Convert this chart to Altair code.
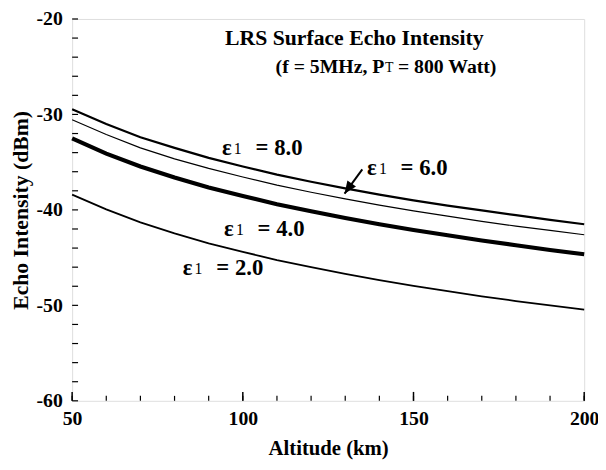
import altair as alt
import pandas as pd

# ---- data ----
altitude_km = [50, 60, 70, 80, 90, 100, 110, 120, 130, 140, 150, 160, 170, 180, 190, 200]
eps8 = [-29.45, -31.0, -32.4, -33.5, -34.55, -35.45, -36.3, -37.05, -37.75, -38.4, -39.0, -39.55, -40.05, -40.55, -41.05, -41.5]
eps6 = [-30.55, -32.1, -33.5, -34.65, -35.65, -36.55, -37.4, -38.15, -38.85, -39.5, -40.1, -40.65, -41.2, -41.7, -42.15, -42.6]
eps4 = [-32.5, -34.1, -35.45, -36.6, -37.65, -38.55, -39.4, -40.15, -40.85, -41.5, -42.1, -42.65, -43.2, -43.7, -44.2, -44.65]
eps2 = [-38.4, -39.95, -41.3, -42.45, -43.5, -44.4, -45.25, -46.0, -46.7, -47.35, -47.95, -48.5, -49.05, -49.55, -50.0, -50.45]

series_names = ["8.0", "6.0", "4.0", "2.0"]
series_widths = [2.2, 1.2, 4.2, 1.8]

label_x = [93.9, 136.4, 94.5, 82.4]
label_y = [-33.55, -35.6, -42.05, -46.05]
label_text = ["= 8.0", "= 6.0", "= 4.0", "= 2.0"]

title_line1 = "LRS Surface Echo Intensity"
title_line2_a = "(f = 5MHz, P"
title_line2_b = "T"
title_line2_c = "= 800 Watt)"
title_x = [94.8, 109.6]
title_y = [-21.96, -25.06]

arrow_start = (135.0, -35.75)
arrow_tip = (129.8, -38.3)

x_ticks_minor = list(range(50, 201, 10))
x_ticks_major = [50, 100, 150, 200]
y_ticks = list(range(-60, -19, 2))
y_labels = [-60, -50, -40, -30, -20]

W, H = 519, 387
FONT = "Liberation Serif"

rows = []
for name, w, vals in zip(series_names, series_widths, [eps8, eps6, eps4, eps2]):
    for a, v in zip(altitude_km, vals):
        rows.append({"alt": a, "dbm": v, "eps": name, "w": w})
df = pd.DataFrame(rows)

xs = alt.Scale(domain=[50, 200], nice=False)
ys = alt.Scale(domain=[-60, -20], nice=False)

lines = alt.Chart(df).mark_line(color="black").encode(
    x=alt.X("alt:Q", scale=xs,
            axis=alt.Axis(title="Altitude (km)", values=x_ticks_major, ticks=False,
                          grid=False, domain=False, labelPadding=8,
                          labelFont=FONT, labelFontSize=20, labelFontWeight="bold",
                          labelColor="black", titleFont=FONT, titleFontSize=21,
                          titleFontWeight="bold", titleColor="black", titleY=37,
                          labelFlush=False, labelExpr="'' + datum.value")),
    y=alt.Y("dbm:Q", scale=ys,
            axis=alt.Axis(title="Echo Intensity (dBm)", values=y_labels,
                          ticks=False, grid=False, domain=False, labelPadding=10,
                          labelFont=FONT, labelFontSize=20, labelFontWeight="bold",
                          labelColor="black", titleFont=FONT, titleFontSize=22,
                          titleFontWeight="bold", titleColor="black", titleX=-40,
                          labelFlush=False, labelExpr="'' + datum.value")),
    detail="eps:N",
    strokeWidth=alt.StrokeWidth("w:Q", scale=None),
)

# inward ticks
xt_minor = alt.Chart(pd.DataFrame({"v": x_ticks_minor})).mark_rule(color="black", strokeWidth=1.2).encode(
    x=alt.X("v:Q", scale=xs), y=alt.value(H), y2=alt.value(H - 5))
xt_major = alt.Chart(pd.DataFrame({"v": x_ticks_major})).mark_rule(color="black", strokeWidth=1.5).encode(
    x=alt.X("v:Q", scale=xs), y=alt.value(H), y2=alt.value(H - 9))
yt = alt.Chart(pd.DataFrame({"v": y_ticks})).mark_rule(color="black", strokeWidth=1.2).encode(
    y=alt.Y("v:Q", scale=ys), x=alt.value(0), x2=alt.value(6))

lab_df = pd.DataFrame({"x": label_x, "y": label_y, "t": label_text})
eps_sym = alt.Chart(lab_df).mark_text(text="ε", align="left", baseline="middle", font=FONT,
                                      fontSize=23, fontWeight="bold", color="black").encode(
    x=alt.X("x:Q", scale=xs), y=alt.Y("y:Q", scale=ys))
eps_sub = alt.Chart(lab_df).mark_text(text="1", align="left", baseline="middle", font=FONT,
                                      fontSize=16, color="black", dx=12, dy=1).encode(
    x=alt.X("x:Q", scale=xs), y=alt.Y("y:Q", scale=ys))
eps_val = alt.Chart(lab_df).mark_text(align="left", baseline="middle", font=FONT,
                                      fontSize=23, fontWeight="bold", color="black", dx=34).encode(
    x=alt.X("x:Q", scale=xs), y=alt.Y("y:Q", scale=ys), text="t:N")

t1 = alt.Chart(pd.DataFrame({"x": [title_x[0]], "y": [title_y[0]], "t": [title_line1]})).mark_text(
    align="left", baseline="middle", font=FONT, fontSize=22, fontWeight="bold", color="black").encode(
    x=alt.X("x:Q", scale=xs), y=alt.Y("y:Q", scale=ys), text="t:N")
t2df = pd.DataFrame({"x": [title_x[1]], "y": [title_y[1]]})
t2a = alt.Chart(t2df).mark_text(text=title_line2_a, align="left", baseline="middle", font=FONT,
                                fontSize=20, fontWeight="bold", color="black").encode(
    x=alt.X("x:Q", scale=xs), y=alt.Y("y:Q", scale=ys))
t2b = alt.Chart(t2df).mark_text(text=title_line2_b, align="left", baseline="middle", font=FONT,
                                fontSize=14, color="black", dx=111, dy=1).encode(
    x=alt.X("x:Q", scale=xs), y=alt.Y("y:Q", scale=ys))
t2c = alt.Chart(t2df).mark_text(text=title_line2_c, align="left", baseline="middle", font=FONT,
                                fontSize=20, fontWeight="bold", color="black", dx=124).encode(
    x=alt.X("x:Q", scale=xs), y=alt.Y("y:Q", scale=ys))

arr_df = pd.DataFrame({"x": [arrow_start[0]], "y": [arrow_start[1]],
                       "x2": [arrow_tip[0]], "y2": [arrow_tip[1]]})
shaft = alt.Chart(arr_df).mark_rule(color="black", strokeWidth=2).encode(
    x=alt.X("x:Q", scale=xs), y=alt.Y("y:Q", scale=ys), x2="x2:Q", y2="y2:Q")
head = alt.Chart(arr_df).mark_point(shape="M0,0 L-0.42,-1 L0.42,-1 Z", filled=True, color="black",
                                    size=640, angle=35, opacity=1).encode(
    x=alt.X("x2:Q", scale=xs), y=alt.Y("y2:Q", scale=ys))

chart = alt.layer(lines, xt_minor, xt_major, yt, shaft, head, eps_sym, eps_sub, eps_val,
                  t1, t2a, t2b, t2c).properties(
    width=W, height=H,
    autosize=alt.AutoSizeParams(type="none"),
    padding={"left": 65, "top": 8, "right": 14, "bottom": 67},
).configure_view(stroke="black", strokeWidth=2).configure(background="white")

chart.save("out.html", embed_options={"renderer": "svg", "actions": False})
